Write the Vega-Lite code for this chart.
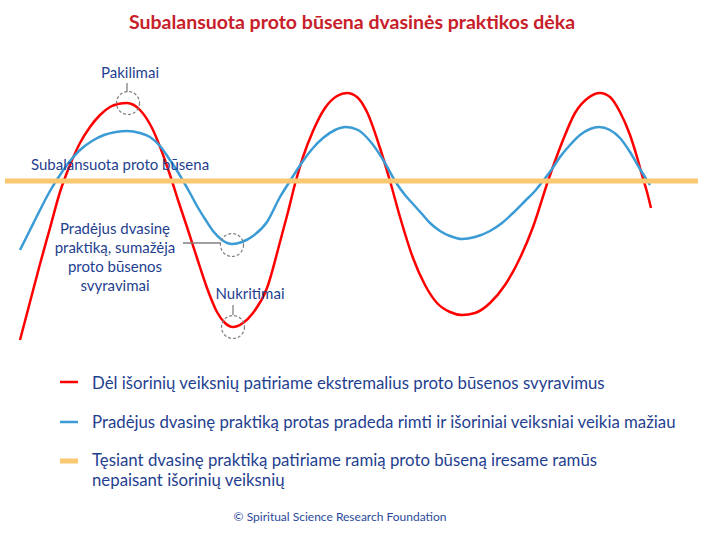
{
  "$schema": "https://vega.github.io/schema/vega-lite/v6.json",
  "width": 704,
  "height": 533,
  "autosize": {"type": "none"},
  "padding": 0,
  "background": "#ffffff",
  "config": {"view": {"stroke": null}, "text": {"font": "Lato"}},
  "datasets": {
    "curves": [
      {"series": "extreme", "t": 20, "level": -159},
      {"series": "extreme", "t": 30, "level": -121},
      {"series": "extreme", "t": 40, "level": -83},
      {"series": "extreme", "t": 50, "level": -47},
      {"series": "extreme", "t": 60, "level": -11},
      {"series": "extreme", "t": 70, "level": 16},
      {"series": "extreme", "t": 80, "level": 38},
      {"series": "extreme", "t": 90, "level": 54},
      {"series": "extreme", "t": 100, "level": 66},
      {"series": "extreme", "t": 110, "level": 74},
      {"series": "extreme", "t": 118, "level": 77},
      {"series": "extreme", "t": 127, "level": 78},
      {"series": "extreme", "t": 140, "level": 71},
      {"series": "extreme", "t": 152, "level": 53},
      {"series": "extreme", "t": 162, "level": 29},
      {"series": "extreme", "t": 170, "level": 6},
      {"series": "extreme", "t": 178, "level": -19},
      {"series": "extreme", "t": 187, "level": -46},
      {"series": "extreme", "t": 197, "level": -77},
      {"series": "extreme", "t": 207, "level": -107},
      {"series": "extreme", "t": 217, "level": -131},
      {"series": "extreme", "t": 225, "level": -142},
      {"series": "extreme", "t": 233, "level": -146},
      {"series": "extreme", "t": 243, "level": -142},
      {"series": "extreme", "t": 253, "level": -132},
      {"series": "extreme", "t": 267, "level": -107},
      {"series": "extreme", "t": 280, "level": -61},
      {"series": "extreme", "t": 288, "level": -31},
      {"series": "extreme", "t": 295, "level": -3},
      {"series": "extreme", "t": 303, "level": 24},
      {"series": "extreme", "t": 313, "level": 50},
      {"series": "extreme", "t": 325, "level": 73},
      {"series": "extreme", "t": 337, "level": 85},
      {"series": "extreme", "t": 347, "level": 88},
      {"series": "extreme", "t": 357, "level": 84},
      {"series": "extreme", "t": 367, "level": 69},
      {"series": "extreme", "t": 380, "level": 33},
      {"series": "extreme", "t": 390, "level": 0},
      {"series": "extreme", "t": 400, "level": -36},
      {"series": "extreme", "t": 413, "level": -77},
      {"series": "extreme", "t": 425, "level": -104},
      {"series": "extreme", "t": 437, "level": -122},
      {"series": "extreme", "t": 450, "level": -131},
      {"series": "extreme", "t": 462, "level": -134},
      {"series": "extreme", "t": 475, "level": -132},
      {"series": "extreme", "t": 490, "level": -122},
      {"series": "extreme", "t": 505, "level": -104},
      {"series": "extreme", "t": 520, "level": -77},
      {"series": "extreme", "t": 533, "level": -46},
      {"series": "extreme", "t": 548, "level": 0},
      {"series": "extreme", "t": 563, "level": 41},
      {"series": "extreme", "t": 575, "level": 68},
      {"series": "extreme", "t": 588, "level": 83},
      {"series": "extreme", "t": 600, "level": 88},
      {"series": "extreme", "t": 610, "level": 84},
      {"series": "extreme", "t": 620, "level": 69},
      {"series": "extreme", "t": 630, "level": 46},
      {"series": "extreme", "t": 637, "level": 24},
      {"series": "extreme", "t": 642, "level": 6},
      {"series": "extreme", "t": 647, "level": -11},
      {"series": "extreme", "t": 651, "level": -27},
      {"series": "practice", "t": 20, "level": -69},
      {"series": "practice", "t": 30, "level": -49},
      {"series": "practice", "t": 40, "level": -29},
      {"series": "practice", "t": 50, "level": -10},
      {"series": "practice", "t": 60, "level": 6},
      {"series": "practice", "t": 70, "level": 20},
      {"series": "practice", "t": 80, "level": 31},
      {"series": "practice", "t": 92, "level": 40},
      {"series": "practice", "t": 104, "level": 46},
      {"series": "practice", "t": 116, "level": 49},
      {"series": "practice", "t": 127, "level": 50},
      {"series": "practice", "t": 140, "level": 48},
      {"series": "practice", "t": 150, "level": 44},
      {"series": "practice", "t": 160, "level": 35},
      {"series": "practice", "t": 170, "level": 21},
      {"series": "practice", "t": 176, "level": 12},
      {"series": "practice", "t": 182, "level": 2},
      {"series": "practice", "t": 190, "level": -12},
      {"series": "practice", "t": 197, "level": -25},
      {"series": "practice", "t": 205, "level": -38},
      {"series": "practice", "t": 213, "level": -50},
      {"series": "practice", "t": 222, "level": -59},
      {"series": "practice", "t": 232, "level": -63},
      {"series": "practice", "t": 242, "level": -61},
      {"series": "practice", "t": 253, "level": -55},
      {"series": "practice", "t": 267, "level": -41},
      {"series": "practice", "t": 280, "level": -16},
      {"series": "practice", "t": 290, "level": 0},
      {"series": "practice", "t": 303, "level": 20},
      {"series": "practice", "t": 313, "level": 33},
      {"series": "practice", "t": 323, "level": 43},
      {"series": "practice", "t": 335, "level": 51},
      {"series": "practice", "t": 346, "level": 54},
      {"series": "practice", "t": 358, "level": 51},
      {"series": "practice", "t": 370, "level": 40},
      {"series": "practice", "t": 385, "level": 18},
      {"series": "practice", "t": 395, "level": 0},
      {"series": "practice", "t": 405, "level": -14},
      {"series": "practice", "t": 413, "level": -23},
      {"series": "practice", "t": 422, "level": -33},
      {"series": "practice", "t": 430, "level": -42},
      {"series": "practice", "t": 440, "level": -50},
      {"series": "practice", "t": 450, "level": -55},
      {"series": "practice", "t": 462, "level": -58},
      {"series": "practice", "t": 475, "level": -56},
      {"series": "practice", "t": 490, "level": -50},
      {"series": "practice", "t": 502, "level": -42},
      {"series": "practice", "t": 513, "level": -32},
      {"series": "practice", "t": 525, "level": -20},
      {"series": "practice", "t": 535, "level": -10},
      {"series": "practice", "t": 543, "level": 0},
      {"series": "practice", "t": 552, "level": 12},
      {"series": "practice", "t": 560, "level": 24},
      {"series": "practice", "t": 570, "level": 36},
      {"series": "practice", "t": 580, "level": 46},
      {"series": "practice", "t": 590, "level": 52},
      {"series": "practice", "t": 599, "level": 54},
      {"series": "practice", "t": 610, "level": 51},
      {"series": "practice", "t": 620, "level": 43},
      {"series": "practice", "t": 630, "level": 29},
      {"series": "practice", "t": 640, "level": 12},
      {"series": "practice", "t": 650, "level": -4}
    ],
    "balanced": [
      {"series": "balanced", "t": 5, "level": 0},
      {"series": "balanced", "t": 698, "level": 0}
    ],
    "markers": [
      {"t": 128, "level": 78},
      {"t": 232, "level": -64},
      {"t": 233, "level": -146}
    ],
    "pointers": [
      {"t": 127, "level": 98, "t2": 127, "level2": 89},
      {"t": 233, "level": -124, "t2": 233, "level2": -134},
      {"t": 183, "level": -62, "t2": 221, "level2": -62}
    ],
    "legendKeys": [
      {"series": "extreme", "t": 60, "t2": 78, "level": -201},
      {"series": "practice", "t": 60, "t2": 78, "level": -241},
      {"series": "balanced", "t": 60, "t2": 78, "level": -280}
    ],
    "texts": [
      {"kind": "title", "text": "Subalansuota proto būsena dvasinės praktikos dėka", "t": 352, "level": 152},
      {"kind": "note", "text": "Pakilimai", "t": 130, "level": 103},
      {"kind": "noteLeft", "text": "Subalansuota proto būsena", "t": 31, "level": 11},
      {"kind": "note", "text": "Pradėjus dvasinę", "t": 115, "level": -53},
      {"kind": "note", "text": "praktiką, sumažėja", "t": 115, "level": -72},
      {"kind": "note", "text": "proto būsenos", "t": 115, "level": -91},
      {"kind": "note", "text": "svyravimai", "t": 115, "level": -110},
      {"kind": "note", "text": "Nukritimai", "t": 250, "level": -118},
      {"kind": "legend", "text": "Dėl išorinių veiksnių patiriame ekstremalius proto būsenos svyravimus", "t": 92, "level": -208},
      {"kind": "legend", "text": "Pradėjus dvasinę praktiką protas pradeda rimti ir išoriniai veiksniai veikia mažiau", "t": 92, "level": -247},
      {"kind": "legend", "text": "Tęsiant dvasinę praktiką patiriame ramią proto būseną iresame ramūs\nnepaisant išorinių veiksnių", "t": 92, "level": -285},
      {"kind": "footer", "text": "© Spiritual Science Research Foundation", "t": 340, "level": -340}
    ]
  },
  "encoding": {
    "x": {"field": "t", "type": "quantitative", "scale": {"domain": [0, 704], "nice": false, "zero": false}, "axis": null},
    "y": {"field": "level", "type": "quantitative", "scale": {"domain": [-352, 181], "nice": false, "zero": false}, "axis": null}
  },
  "layer": [
    {
      "data": {"name": "curves"},
      "mark": {"type": "line", "interpolate": "monotone", "strokeWidth": 2.5},
      "encoding": {
        "color": {"field": "series", "type": "nominal", "legend": null,
          "scale": {"domain": ["extreme", "practice", "balanced"], "range": ["#FF0000", "#3A9BD5", "#FAC870"]}}
      }
    },
    {
      "data": {"name": "balanced"},
      "mark": {"type": "line", "strokeWidth": 5},
      "encoding": {
        "color": {"field": "series", "type": "nominal", "legend": null}
      }
    },
    {
      "data": {"name": "markers"},
      "mark": {"type": "point", "shape": "circle", "size": 529, "filled": false, "stroke": "#808080", "strokeWidth": 1.2, "strokeDash": [3, 2], "opacity": 1}
    },
    {
      "data": {"name": "pointers"},
      "mark": {"type": "rule", "stroke": "#808080", "strokeWidth": 1.3},
      "encoding": {
        "x2": {"field": "t2"},
        "y2": {"field": "level2"}
      }
    },
    {
      "data": {"name": "legendKeys"},
      "transform": [{"filter": "datum.series !== 'balanced'"}],
      "mark": {"type": "rule", "strokeWidth": 2.5},
      "encoding": {
        "x2": {"field": "t2"},
        "color": {"field": "series", "type": "nominal", "legend": null}
      }
    },
    {
      "data": {"name": "legendKeys"},
      "transform": [{"filter": "datum.series === 'balanced'"}],
      "mark": {"type": "rule", "strokeWidth": 5},
      "encoding": {
        "x2": {"field": "t2"},
        "color": {"field": "series", "type": "nominal", "legend": null}
      }
    },
    {
      "data": {"name": "texts"},
      "transform": [{"filter": "datum.kind === 'title'"}],
      "mark": {"type": "text", "align": "center", "baseline": "alphabetic", "font": "Lato", "fontSize": 19.5, "fontWeight": "bold", "color": "#C8202A"},
      "encoding": {"text": {"field": "text"}}
    },
    {
      "data": {"name": "texts"},
      "transform": [{"filter": "datum.kind === 'note'"}],
      "mark": {"type": "text", "align": "center", "baseline": "alphabetic", "font": "Lato", "fontSize": 15, "color": "#1F3F8F"},
      "encoding": {"text": {"field": "text"}}
    },
    {
      "data": {"name": "texts"},
      "transform": [{"filter": "datum.kind === 'noteLeft'"}],
      "mark": {"type": "text", "align": "left", "baseline": "alphabetic", "font": "Lato", "fontSize": 15, "color": "#1F3F8F"},
      "encoding": {"text": {"field": "text"}}
    },
    {
      "data": {"name": "texts"},
      "transform": [{"filter": "datum.kind === 'legend'"}],
      "mark": {"type": "text", "align": "left", "baseline": "alphabetic", "font": "Lato", "fontSize": 16.8, "lineBreak": "\n", "lineHeight": 20, "color": "#1F3F8F"},
      "encoding": {"text": {"field": "text"}}
    },
    {
      "data": {"name": "texts"},
      "transform": [{"filter": "datum.kind === 'footer'"}],
      "mark": {"type": "text", "align": "center", "baseline": "alphabetic", "font": "Lato", "fontSize": 12, "color": "#2A4A9A"},
      "encoding": {"text": {"field": "text"}}
    }
  ]
}
